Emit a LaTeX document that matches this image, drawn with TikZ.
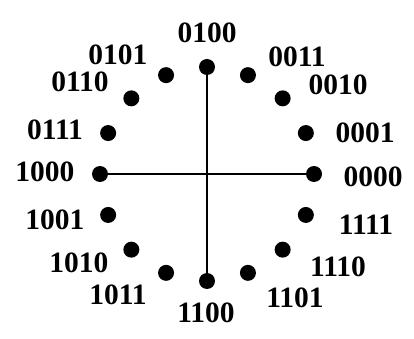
\documentclass[tikz,border=0pt]{standalone}
\usepackage{fontspec}
\setmainfont{Liberation Serif}

\begin{document}
\begin{tikzpicture}[x=1pt,y=1pt,font=\fontsize{29.5}{31}\selectfont\bfseries,
  pt/.style={circle,fill,inner sep=0pt,minimum size=16pt}]
 \useasboundingbox (-207,-165) rectangle (207,174);
 % the sixteen points on the circle
 \foreach \code [count=\k from 0] in
   {0000,0001,0010,0011,0100,0101,0110,0111,1000,1001,1010,1011,1100,1101,1110,1111}
   \node[pt] (p\code) at ({\k*22.5}:107) {};
 \draw[line width=2.2pt] (p1000) -- (p0000);
 \draw[line width=2.2pt] (p0100) -- (p1100);
 % codes
 \node (l0000) at (166,-3) {0000};
 \node (l0001) at (158,41) {0001};
 \node (l0010) at (131,89) {0010};
 \node (l0011) at (90,117) {0011};
 \node (l0100) at (0,141) {0100};
 \node (l0101) at (-89,119) {0101};
 \node (l0110) at (-127,92) {0110};
 \node (l0111) at (-152,44) {0111};
 \node (l1000) at (-162,2) {1000};
 \node (l1001) at (-152,-46) {1001};
 \node (l1010) at (-128,-89) {1010};
 \node (l1011) at (-89,-121) {1011};
 \node (l1100) at (-1,-139) {1100};
 \node (l1101) at (88,-124) {1101};
 \node (l1110) at (131,-93) {1110};
 \node (l1111) at (159,-51) {1111};
\end{tikzpicture}
\end{document}
